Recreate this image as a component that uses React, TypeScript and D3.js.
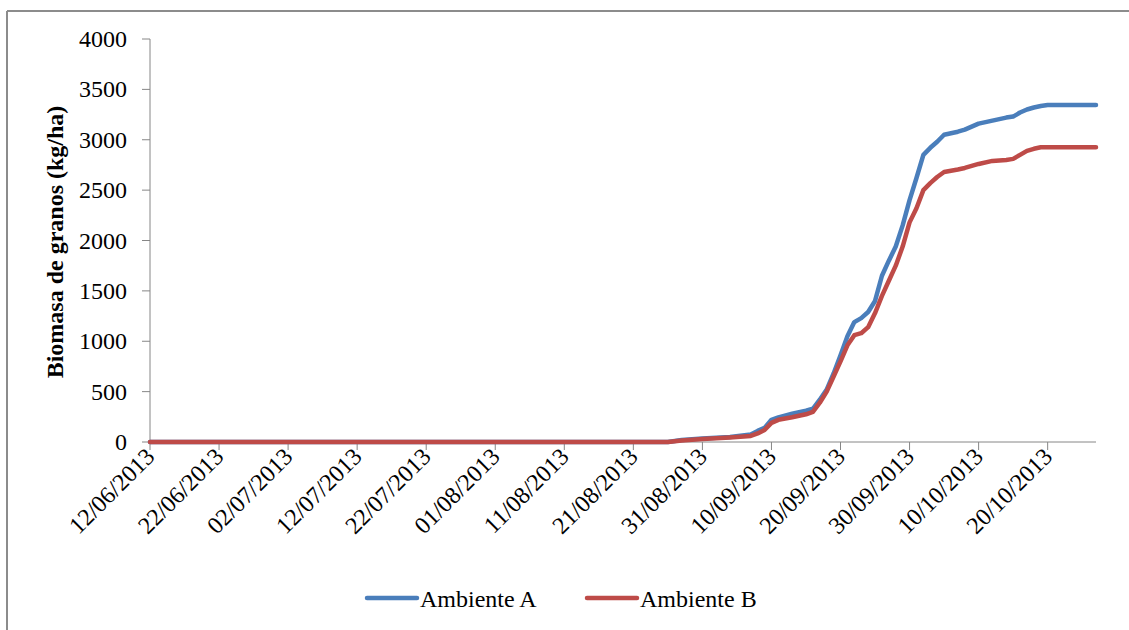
import * as d3 from "d3";

// shared sampling dates (dd/mm/yyyy)
const dates = [
  "12/06/2013", "26/08/2013", "28/08/2013", "31/08/2013", "04/09/2013", "07/09/2013",
  "08/09/2013", "09/09/2013", "10/09/2013", "11/09/2013", "13/09/2013", "15/09/2013",
  "16/09/2013", "17/09/2013", "18/09/2013", "19/09/2013", "20/09/2013", "21/09/2013",
  "22/09/2013", "23/09/2013", "24/09/2013", "25/09/2013", "26/09/2013", "27/09/2013",
  "28/09/2013", "29/09/2013", "30/09/2013", "01/10/2013", "02/10/2013", "03/10/2013",
  "04/10/2013", "05/10/2013", "07/10/2013", "08/10/2013", "10/10/2013", "12/10/2013",
  "14/10/2013", "15/10/2013", "16/10/2013", "17/10/2013", "18/10/2013", "19/10/2013",
  "20/10/2013", "27/10/2013",
];

const ambienteA = [
  0, 0, 20, 35, 50, 75, 110, 140, 220, 245, 280, 310,
  330, 420, 520, 680, 860, 1050, 1190, 1230, 1290, 1400, 1650, 1800,
  1940, 2150, 2400, 2620, 2850, 2920, 2980, 3050, 3080, 3100, 3160, 3190,
  3220, 3230, 3270, 3300, 3320, 3335, 3345, 3345,
];

const ambienteB = [
  0, 0, 15, 30, 45, 60, 85, 120, 190, 220, 245, 275,
  300, 390, 500, 650, 800, 960, 1060, 1080, 1140, 1280, 1450, 1600,
  1750, 1940, 2180, 2320, 2500, 2570, 2630, 2680, 2705, 2720, 2760, 2790,
  2800, 2810, 2850, 2890, 2910, 2925, 2925, 2925,
];

const xTickLabels = [
  "12/06/2013", "22/06/2013", "02/07/2013", "12/07/2013", "22/07/2013", "01/08/2013",
  "11/08/2013", "21/08/2013", "31/08/2013", "10/09/2013", "20/09/2013", "30/09/2013",
  "10/10/2013", "20/10/2013",
];

const yTicks = [0, 500, 1000, 1500, 2000, 2500, 3000, 3500, 4000];

const series = [
  { name: "Ambiente A", values: ambienteA, color: "#4a7ebb" },
  { name: "Ambiente B", values: ambienteB, color: "#be4b48" },
];

const parse = d3.timeParse("%d/%m/%Y");
const font = '"Liberation Serif", "DejaVu Serif", serif';
const txt = { fontFamily: font, fill: "#000" };

export default function App() {
  const width = 1129;
  const height = 630;
  const plot = { left: 150, right: 1096, top: 39, bottom: 442 };
  const parsed = dates.map((d) => parse(d) as Date);

  const x = d3
    .scaleTime()
    .domain([parsed[0], parsed[parsed.length - 1]])
    .range([plot.left, plot.right]);
  const y = d3.scaleLinear().domain([0, 4000]).range([plot.bottom, plot.top]);

  const line = d3
    .line<number>()
    .x((_, i) => x(parsed[i]))
    .y((v) => y(v));

  const axisColor = "#868686";

  return (
    <svg
      width={width}
      height={height}
      viewBox={`0 0 ${width} ${height}`}
      style={{ position: "absolute", left: 0, top: 0, background: "#fff" }}
    >
      <line x1={7} x2={width} y1={11} y2={11} stroke="#8c8c8c" strokeWidth={2} />
      <line x1={7} x2={7} y1={11} y2={height} stroke="#8c8c8c" strokeWidth={2} />

      {/* y axis */}
      <line x1={plot.left} x2={plot.left} y1={plot.top} y2={plot.bottom} stroke={axisColor} />
      {yTicks.map((t) => (
        <g key={t}>
          <line x1={plot.left - 8} x2={plot.left} y1={y(t)} y2={y(t)} stroke={axisColor} />
          <text x={127} y={y(t) + 8} textAnchor="end" fontSize={24} style={txt}>
            {t}
          </text>
        </g>
      ))}
      <text
        transform={`translate(63, 242) rotate(-90)`}
        textAnchor="middle"
        fontSize={24}
        fontWeight="bold"
        style={txt}
      >
        Biomasa de granos (kg/ha)
      </text>

      {/* x axis */}
      <line x1={plot.left} x2={plot.right} y1={plot.bottom} y2={plot.bottom} stroke={axisColor} />
      {xTickLabels.map((label) => {
        const tx = x(parse(label) as Date);
        return (
          <g key={label}>
            <line x1={tx} x2={tx} y1={plot.bottom} y2={plot.bottom + 8} stroke={axisColor} />
            <text
              transform={`translate(${tx + 6}, ${plot.bottom + 16}) rotate(-45)`}
              textAnchor="end"
              fontSize={24}
              style={txt}
            >
              {label}
            </text>
          </g>
        );
      })}

      {series.map((s) => (
        <path
          key={s.name}
          d={line(s.values) ?? ""}
          fill="none"
          stroke={s.color}
          strokeWidth={4.5}
          strokeLinejoin="round"
          strokeLinecap="round"
        />
      ))}

      {/* legend */}
      {series.map((s, i) => (
        <g key={s.name} transform={`translate(${367 + i * 220}, 598)`}>
          <line x1={0} x2={50} y1={0} y2={0} stroke={s.color} strokeWidth={4.5} strokeLinecap="round" />
          <text x={53} y={9} fontSize={24} style={txt}>
            {s.name}
          </text>
        </g>
      ))}
    </svg>
  );
}
